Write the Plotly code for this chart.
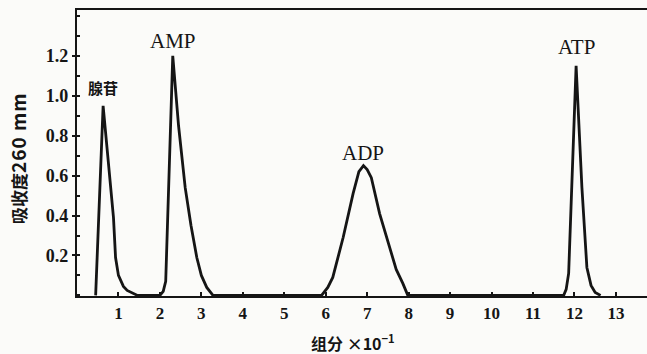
import plotly.graph_objects as go

# fraction number (x10^-1) and absorbance at 260 nm
fraction = [0.45, 0.63, 0.88, 0.93, 1.00, 1.05, 1.12, 1.21, 1.46, 2.00,
            2.08, 2.14, 2.31, 2.45, 2.61, 2.75, 2.89, 3.00, 3.13, 3.28,
            5.90, 6.05, 6.17, 6.42, 6.66, 6.80, 6.91, 7.00, 7.10, 7.30, 7.54, 7.70, 7.86, 7.98,
            11.74, 11.80, 11.86, 12.04, 12.18, 12.30, 12.40, 12.50, 12.63]
absorbance = [0.0, 0.95, 0.39, 0.19, 0.10, 0.075, 0.045, 0.025, 0.0, 0.0,
              0.02, 0.07, 1.20, 0.85, 0.54, 0.35, 0.19, 0.10, 0.04, 0.0,
              0.0, 0.04, 0.09, 0.29, 0.51, 0.62, 0.65, 0.63, 0.59, 0.41, 0.24, 0.13, 0.06, 0.0,
              0.0, 0.03, 0.11, 1.15, 0.54, 0.14, 0.05, 0.015, 0.0]

peak_labels = ["腺苷", "AMP", "ADP", "ATP"]
peak_x = [0.62, 2.32, 6.91, 12.04]
peak_y = [1.04, 1.275, 0.715, 1.245]

x_ticks = list(range(1, 14))
y_ticks = [0.2, 0.4, 0.6, 0.8, 1.0, 1.2]
y_tick_text = ["0.2", "0.4", "0.6", "0.8", "1.0", "1.2"]

x_title = "组分 ×10<sup>−1</sup>"
y_title = "吸收度<span style='font-size:19px;letter-spacing:1px'>260 mm</span>"

ink = "#151515"
paper = "#fbfbf9"
serif = "Liberation Serif, serif"
cjk = "Noto Sans CJK SC, sans-serif"

W, H = 647, 354
L, R, T, B = 77, 0, 10, 58

fig = go.Figure()
fig.add_trace(go.Scatter(x=fraction, y=absorbance, mode="lines",
                         line=dict(color=ink, width=2.8), hoverinfo="skip",
                         showlegend=False))

for t, xv, yv in zip(peak_labels, peak_x, peak_y):
    is_cjk = t == "腺苷"
    fig.add_annotation(x=xv, y=yv, text=t, showarrow=False,
                       xanchor="center", yanchor="middle",
                       font=dict(family=cjk if is_cjk else serif,
                                 size=15 if is_cjk else 21, color=ink,
                                 weight="bold" if is_cjk else "normal"))

# axis titles as paper-anchored annotations
pw, ph = W - L - R, H - T - B
fig.add_annotation(xref="paper", yref="paper",
                   x=(353 - L) / pw, y=(H - B - 342) / ph,
                   xanchor="center", yanchor="middle",
                   text=x_title, showarrow=False,
                   font=dict(family=cjk, size=16, color=ink, weight="bold"))
fig.add_annotation(xref="paper", yref="paper",
                   x=(17 - L) / pw, y=(H - B - 158) / ph,
                   xanchor="center", yanchor="middle",
                   text=y_title, showarrow=False, textangle=-90,
                   font=dict(family=cjk, size=17, color=ink, weight="bold"))

fig.update_layout(
    width=W, height=H,
    margin=dict(l=L, r=R, t=T, b=B),
    paper_bgcolor=paper, plot_bgcolor=paper,
    xaxis=dict(range=[0, 13.75], tickvals=x_ticks, ticktext=[str(v) for v in x_ticks],
               ticks="inside", ticklen=4, tickwidth=1.5, tickcolor=ink,
               showline=True, linecolor=ink, linewidth=2.2, mirror=True,
               showgrid=False, zeroline=False, automargin=False,
               tickfont=dict(family=serif, size=17, color=ink, weight="bold")),
    yaxis=dict(range=[-0.003, 1.43], tickvals=y_ticks, ticktext=y_tick_text,
               ticks="outside", ticklen=3, tickwidth=1.5, tickcolor=ink,
               minor=dict(dtick=0.1, tick0=0, ticks="inside", ticklen=3, tickcolor=ink),
               showline=True, linecolor=ink, linewidth=2.2,
               showgrid=False, zeroline=False, automargin=False,
               tickfont=dict(family=serif, size=18, color=ink, weight="bold")),
)

fig.write_html("out.html", config={"displayModeBar": False},
               post_script="document.body.style.margin='0';document.body.style.overflow='hidden';")
